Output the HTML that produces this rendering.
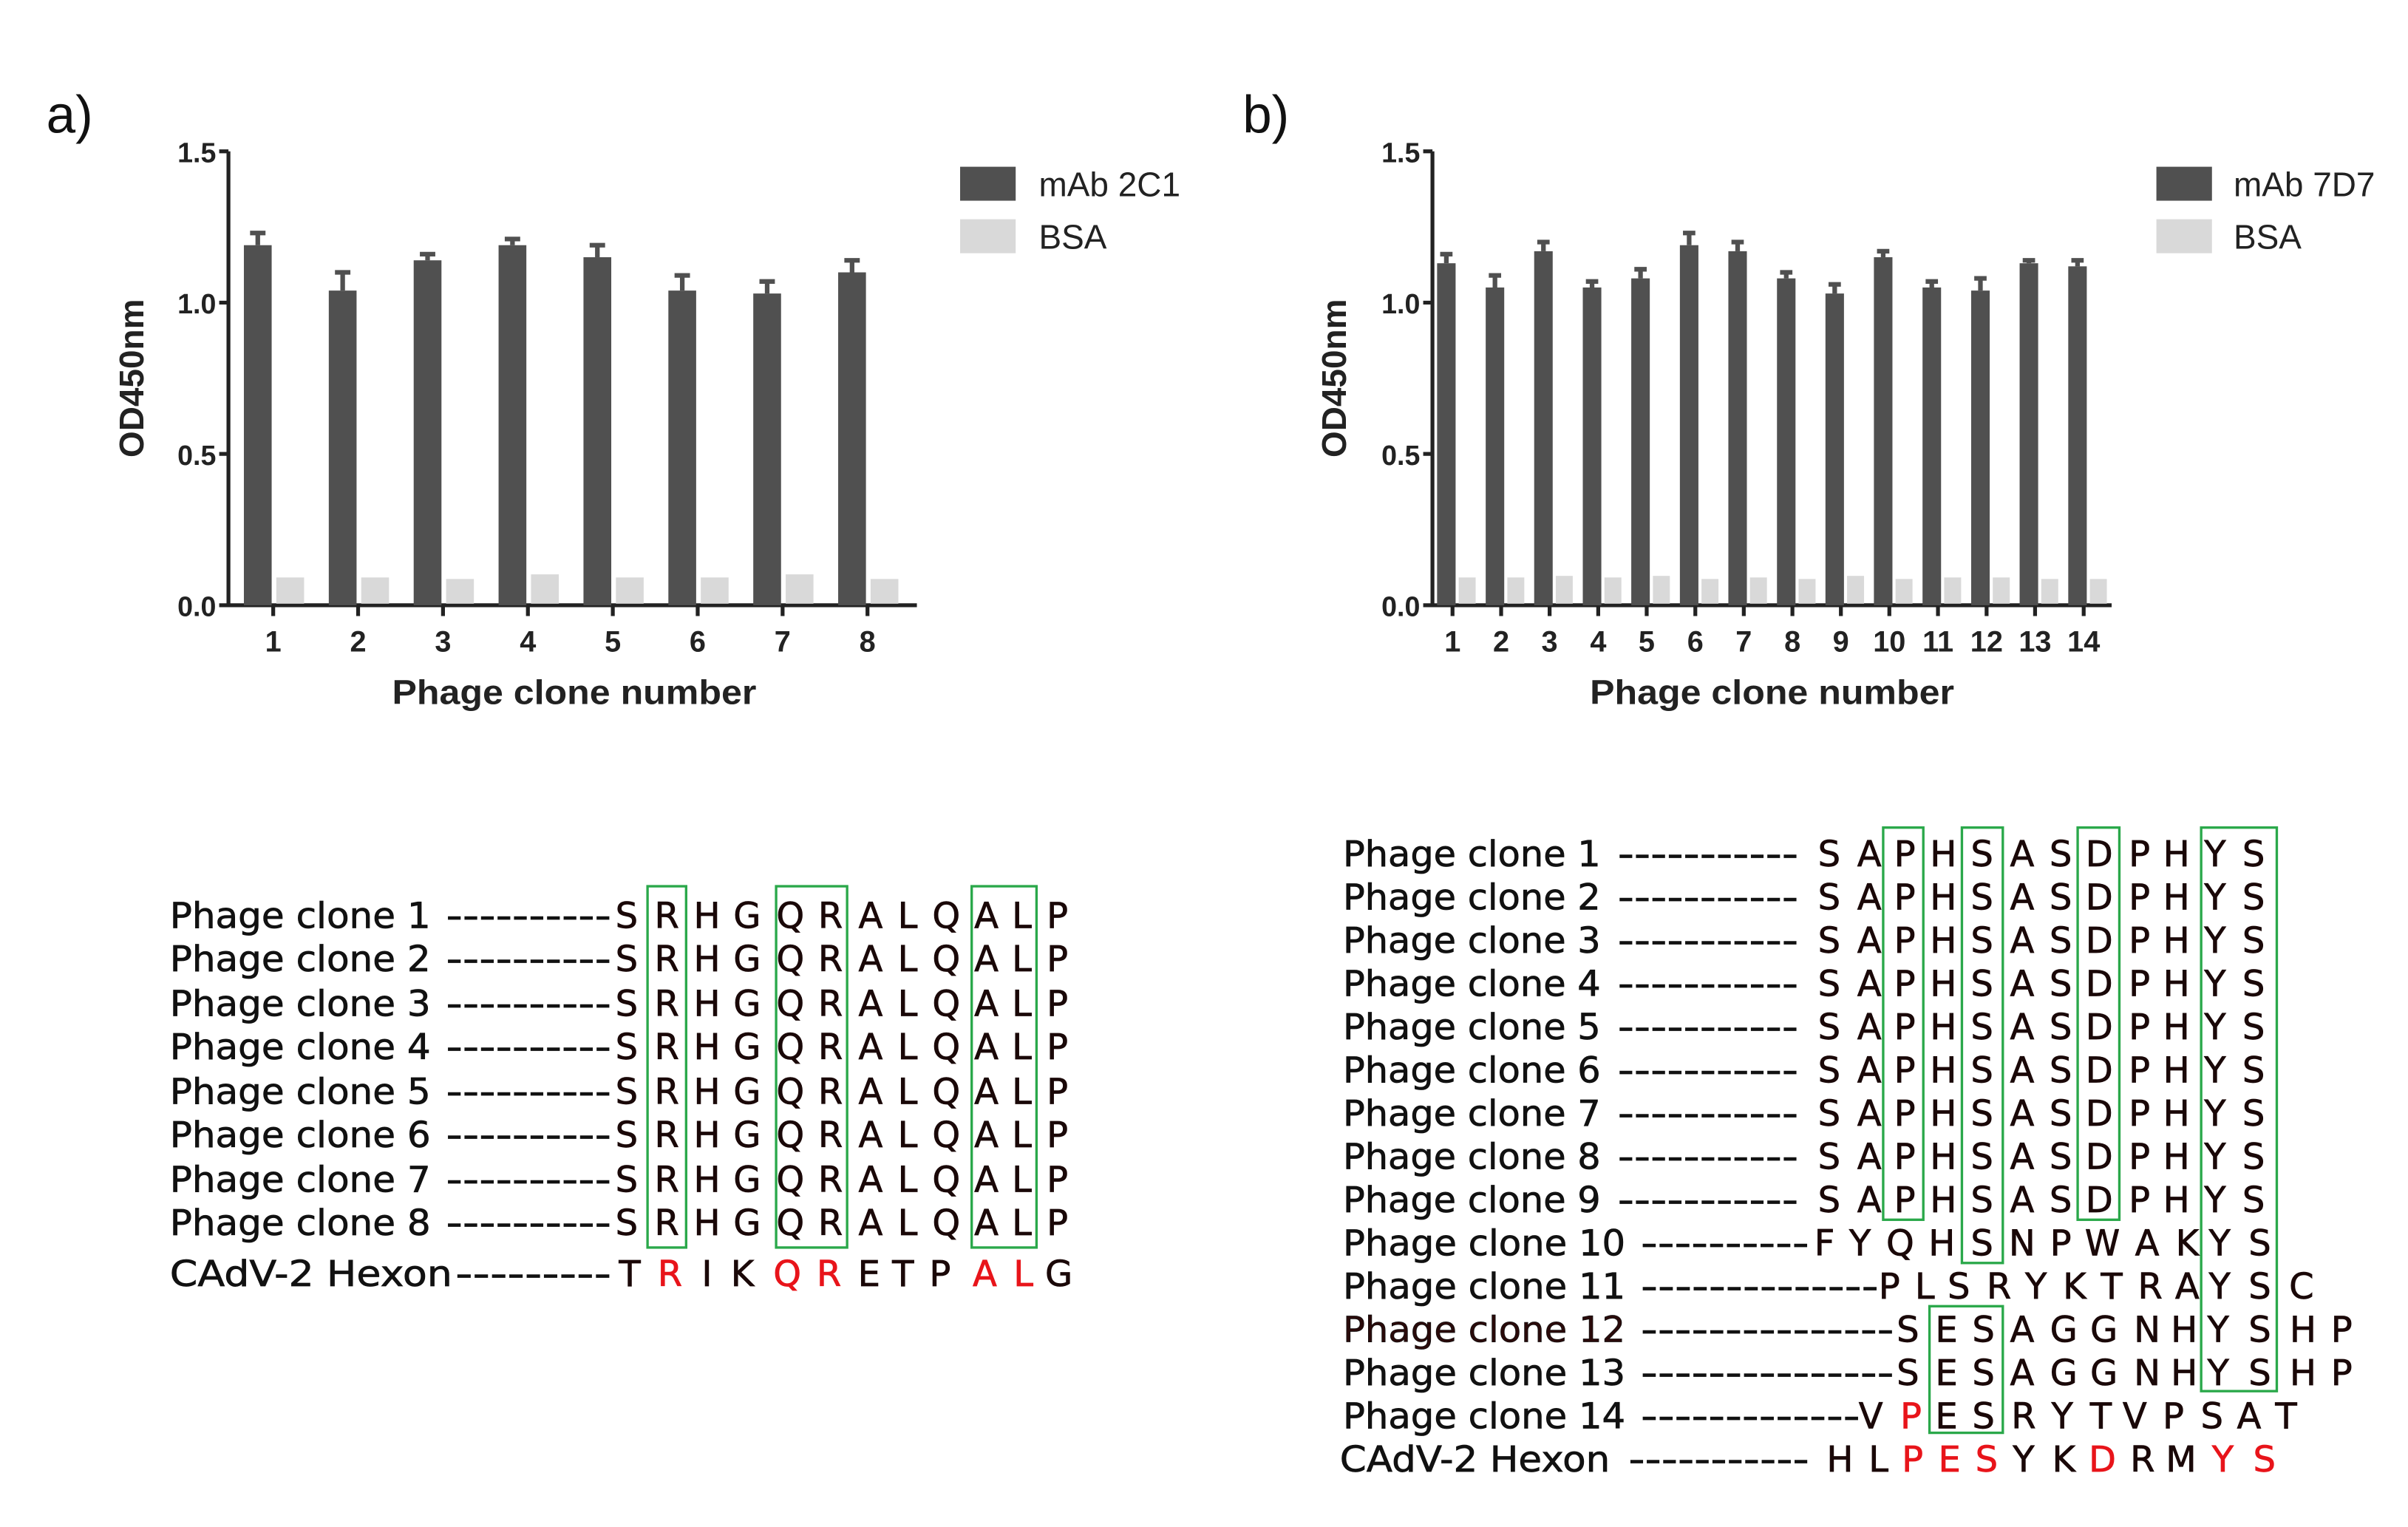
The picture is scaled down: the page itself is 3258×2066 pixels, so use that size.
<!DOCTYPE html>
<html><head><meta charset="utf-8"><style>html,body{margin:0;padding:0;background:#fff}svg{display:block}</style></head><body>
<svg width="3258" height="2066" viewBox="0 0 1560 989" preserveAspectRatio="none" xmlns="http://www.w3.org/2000/svg">
<rect width="1560" height="989" fill="#fff"/>
<g font-family="Liberation Sans, sans-serif" fill="#111">
<text x="30" y="86" font-size="34">a)</text>
<text x="805" y="86" font-size="34">b)</text>
</g>
<!-- Chart a -->
<g stroke="#222" stroke-width="2.5" fill="none">
<path d="M148 98 V392 H594"/>
<path d="M142 98H148M142 196H148M142 294H148M142 392H148"/>
<path d="M177 392v7M232 392v7M287 392v7M342 392v7M397 392v7M452 392v7M507 392v7M562 392v7"/>
</g>
<g font-family="Liberation Sans, sans-serif" font-weight="bold" font-size="18" fill="#222" text-anchor="end">
<text x="140" y="105">1.5</text><text x="140" y="203">1.0</text><text x="140" y="301">0.5</text><text x="140" y="399">0.0</text>
</g>
<g font-family="Liberation Sans, sans-serif" font-weight="bold" font-size="19" fill="#222" text-anchor="middle">
<text x="177" y="422">1</text><text x="232" y="422">2</text><text x="287" y="422">3</text><text x="342" y="422">4</text><text x="397" y="422">5</text><text x="452" y="422">6</text><text x="507" y="422">7</text><text x="562" y="422">8</text>
<text x="372" y="456" font-size="22" textLength="236" lengthAdjust="spacingAndGlyphs">Phage clone number</text>
<text transform="translate(93,245) rotate(-90)" font-size="22">OD450nm</text>
</g>
<g fill="#505050">
<rect x="158" y="158.8" width="18" height="233.2"/><rect x="213" y="188.2" width="18" height="203.8"/>
<rect x="268" y="168.6" width="18" height="223.4"/><rect x="323" y="158.8" width="18" height="233.2"/>
<rect x="378" y="166.6" width="18" height="225.4"/><rect x="433" y="188.2" width="18" height="203.8"/>
<rect x="488" y="190.1" width="18" height="201.9"/><rect x="543" y="176.4" width="18" height="215.6"/>
</g>
<g stroke="#505050" stroke-width="3" fill="none">
<path d="M167 158.8V150.9M162 150.9H172"/><path d="M222 188.2V176.4M217 176.4H227"/>
<path d="M277 168.6V164.6M272 164.6H282"/><path d="M332 158.8V154.8M327 154.8H337"/>
<path d="M387 166.6V158.8M382 158.8H392"/><path d="M442 188.2V178.4M437 178.4H447"/>
<path d="M497 190.1V182.3M492 182.3H502"/><path d="M552 176.4V168.6M547 168.6H557"/>
</g>
<g fill="#d9d9d9">
<rect x="179" y="374" width="18" height="17"/><rect x="234" y="374" width="18" height="17"/>
<rect x="289" y="375" width="18" height="16"/><rect x="344" y="372" width="18" height="19"/>
<rect x="399" y="374" width="18" height="17"/><rect x="454" y="374" width="18" height="17"/>
<rect x="509" y="372" width="18" height="19"/><rect x="564" y="375" width="18" height="16"/>
</g>
<rect x="622" y="108" width="36" height="22" fill="#505050"/>
<rect x="622" y="142" width="36" height="22" fill="#d9d9d9"/>
<g font-family="Liberation Sans, sans-serif" font-size="22" fill="#222">
<text x="673" y="127">mAb 2C1</text><text x="673" y="161">BSA</text>
<text x="1447" y="127">mAb 7D7</text><text x="1447" y="161">BSA</text>
</g>
<!-- Chart b -->
<g stroke="#222" stroke-width="2.5" fill="none">
<path d="M928 98 V392 H1368"/>
<path d="M922 98H928M922 196H928M922 294H928M922 392H928"/>
<path d="M941 392v7M972.5 392v7M1003.9 392v7M1035.4 392v7M1066.8 392v7M1098.3 392v7M1129.7 392v7M1161.2 392v7M1192.6 392v7M1224 392v7M1255.5 392v7M1287 392v7M1318.4 392v7M1349.9 392v7"/>
</g>
<g font-family="Liberation Sans, sans-serif" font-weight="bold" font-size="18" fill="#222" text-anchor="end">
<text x="920" y="105">1.5</text><text x="920" y="203">1.0</text><text x="920" y="301">0.5</text><text x="920" y="399">0.0</text>
</g>
<g font-family="Liberation Sans, sans-serif" font-weight="bold" font-size="19" fill="#222" text-anchor="middle">
<text x="941" y="422">1</text><text x="972.5" y="422">2</text><text x="1003.9" y="422">3</text><text x="1035.4" y="422">4</text><text x="1066.8" y="422">5</text><text x="1098.3" y="422">6</text><text x="1129.7" y="422">7</text><text x="1161.2" y="422">8</text><text x="1192.6" y="422">9</text><text x="1224" y="422">10</text><text x="1255.5" y="422">11</text><text x="1287" y="422">12</text><text x="1318.4" y="422">13</text><text x="1349.9" y="422">14</text>
<text x="1148" y="456" font-size="22" textLength="236" lengthAdjust="spacingAndGlyphs">Phage clone number</text>
<text transform="translate(872,245) rotate(-90)" font-size="22">OD450nm</text>
</g>
<g fill="#505050">
<rect x="931" y="170.5" width="12" height="221.5"/><rect x="962.5" y="186.2" width="12" height="205.8"/>
<rect x="993.9" y="162.7" width="12" height="229.3"/><rect x="1025.4" y="186.2" width="12" height="205.8"/>
<rect x="1056.8" y="180.3" width="12" height="211.7"/><rect x="1088.3" y="158.8" width="12" height="233.2"/>
<rect x="1119.7" y="162.7" width="12" height="229.3"/><rect x="1151.2" y="180.3" width="12" height="211.7"/>
<rect x="1182.6" y="190.1" width="12" height="201.9"/><rect x="1214" y="166.6" width="12" height="225.4"/>
<rect x="1245.5" y="186.2" width="12" height="205.8"/><rect x="1277" y="188.2" width="12" height="203.8"/>
<rect x="1308.4" y="170.5" width="12" height="221.5"/><rect x="1339.9" y="172.5" width="12" height="219.5"/>
</g>
<g stroke="#505050" stroke-width="3" fill="none">
<path d="M937 170.5V164.6M933 164.6H941"/><path d="M968.5 186.2V178.4M964.5 178.4H972.5"/>
<path d="M999.9 162.7V156.8M995.9 156.8H1003.9"/><path d="M1031.4 186.2V182.3M1027.4 182.3H1035.4"/>
<path d="M1062.8 180.3V174.4M1058.8 174.4H1066.8"/><path d="M1094.3 158.8V150.9M1090.3 150.9H1098.3"/>
<path d="M1125.7 162.7V156.8M1121.7 156.8H1129.7"/><path d="M1157.2 180.3V176.4M1153.2 176.4H1161.2"/>
<path d="M1188.6 190.1V184.2M1184.6 184.2H1192.6"/><path d="M1220 166.6V162.7M1216 162.7H1224"/>
<path d="M1251.5 186.2V182.3M1247.5 182.3H1255.5"/><path d="M1283 188.2V180.3M1279 180.3H1287"/>
<path d="M1314.4 170.5V168.6M1310.4 168.6H1318.4"/><path d="M1345.9 172.5V168.6M1341.9 168.6H1349.9"/>
</g>
<g fill="#d9d9d9">
<rect x="945" y="374" width="11" height="17"/><rect x="976.5" y="374" width="11" height="17"/><rect x="1007.9" y="373" width="11" height="18"/><rect x="1039.4" y="374" width="11" height="17"/><rect x="1070.8" y="373" width="11" height="18"/><rect x="1102.3" y="375" width="11" height="16"/><rect x="1133.7" y="374" width="11" height="17"/><rect x="1165.2" y="375" width="11" height="16"/><rect x="1196.6" y="373" width="11" height="18"/><rect x="1228" y="375" width="11" height="16"/><rect x="1259.5" y="374" width="11" height="17"/><rect x="1291" y="374" width="11" height="17"/><rect x="1322.4" y="375" width="11" height="16"/><rect x="1353.9" y="375" width="11" height="16"/>
</g>
<rect x="1397" y="108" width="36" height="22" fill="#505050"/>
<rect x="1397" y="142" width="36" height="22" fill="#d9d9d9"/>

<!-- Sequences a -->
<g font-family="DejaVu Sans, Liberation Sans, sans-serif" font-size="23" fill="#111" stroke="#111" stroke-width="0.35">
<text x="110" y="601" textLength="169" lengthAdjust="spacingAndGlyphs">Phage clone 1</text>
<text x="110" y="629" textLength="169" lengthAdjust="spacingAndGlyphs">Phage clone 2</text>
<text x="110" y="658" textLength="169" lengthAdjust="spacingAndGlyphs">Phage clone 3</text>
<text x="110" y="686" textLength="169" lengthAdjust="spacingAndGlyphs">Phage clone 4</text>
<text x="110" y="715" textLength="169" lengthAdjust="spacingAndGlyphs">Phage clone 5</text>
<text x="110" y="743" textLength="169" lengthAdjust="spacingAndGlyphs">Phage clone 6</text>
<text x="110" y="772" textLength="169" lengthAdjust="spacingAndGlyphs">Phage clone 7</text>
<text x="110" y="800" textLength="169" lengthAdjust="spacingAndGlyphs">Phage clone 8</text>
<text x="110" y="833" textLength="183" lengthAdjust="spacingAndGlyphs">CAdV-2 Hexon</text>
<text x="289" y="601" textLength="107" lengthAdjust="spacingAndGlyphs">----------</text>
<text x="289" y="629" textLength="107" lengthAdjust="spacingAndGlyphs">----------</text>
<text x="289" y="658" textLength="107" lengthAdjust="spacingAndGlyphs">----------</text>
<text x="289" y="686" textLength="107" lengthAdjust="spacingAndGlyphs">----------</text>
<text x="289" y="715" textLength="107" lengthAdjust="spacingAndGlyphs">----------</text>
<text x="289" y="743" textLength="107" lengthAdjust="spacingAndGlyphs">----------</text>
<text x="289" y="772" textLength="107" lengthAdjust="spacingAndGlyphs">----------</text>
<text x="289" y="800" textLength="107" lengthAdjust="spacingAndGlyphs">----------</text>
<text x="295" y="833" textLength="101" lengthAdjust="spacingAndGlyphs">---------</text>
</g>
<g font-family="DejaVu Sans, Liberation Sans, sans-serif" font-size="23" fill="#1a0808" stroke="#1a0808" stroke-width="0.35" text-anchor="middle">
<text y="601"><tspan x="406">S</tspan><tspan x="432">R</tspan><tspan x="458">H</tspan><tspan x="484">G</tspan><tspan x="512">Q</tspan><tspan x="538">R</tspan><tspan x="564">A</tspan><tspan x="588">L</tspan><tspan x="613">Q</tspan><tspan x="639">A</tspan><tspan x="662">L</tspan><tspan x="685">P</tspan></text>
<text y="629"><tspan x="406">S</tspan><tspan x="432">R</tspan><tspan x="458">H</tspan><tspan x="484">G</tspan><tspan x="512">Q</tspan><tspan x="538">R</tspan><tspan x="564">A</tspan><tspan x="588">L</tspan><tspan x="613">Q</tspan><tspan x="639">A</tspan><tspan x="662">L</tspan><tspan x="685">P</tspan></text>
<text y="658"><tspan x="406">S</tspan><tspan x="432">R</tspan><tspan x="458">H</tspan><tspan x="484">G</tspan><tspan x="512">Q</tspan><tspan x="538">R</tspan><tspan x="564">A</tspan><tspan x="588">L</tspan><tspan x="613">Q</tspan><tspan x="639">A</tspan><tspan x="662">L</tspan><tspan x="685">P</tspan></text>
<text y="686"><tspan x="406">S</tspan><tspan x="432">R</tspan><tspan x="458">H</tspan><tspan x="484">G</tspan><tspan x="512">Q</tspan><tspan x="538">R</tspan><tspan x="564">A</tspan><tspan x="588">L</tspan><tspan x="613">Q</tspan><tspan x="639">A</tspan><tspan x="662">L</tspan><tspan x="685">P</tspan></text>
<text y="715"><tspan x="406">S</tspan><tspan x="432">R</tspan><tspan x="458">H</tspan><tspan x="484">G</tspan><tspan x="512">Q</tspan><tspan x="538">R</tspan><tspan x="564">A</tspan><tspan x="588">L</tspan><tspan x="613">Q</tspan><tspan x="639">A</tspan><tspan x="662">L</tspan><tspan x="685">P</tspan></text>
<text y="743"><tspan x="406">S</tspan><tspan x="432">R</tspan><tspan x="458">H</tspan><tspan x="484">G</tspan><tspan x="512">Q</tspan><tspan x="538">R</tspan><tspan x="564">A</tspan><tspan x="588">L</tspan><tspan x="613">Q</tspan><tspan x="639">A</tspan><tspan x="662">L</tspan><tspan x="685">P</tspan></text>
<text y="772"><tspan x="406">S</tspan><tspan x="432">R</tspan><tspan x="458">H</tspan><tspan x="484">G</tspan><tspan x="512">Q</tspan><tspan x="538">R</tspan><tspan x="564">A</tspan><tspan x="588">L</tspan><tspan x="613">Q</tspan><tspan x="639">A</tspan><tspan x="662">L</tspan><tspan x="685">P</tspan></text>
<text y="800"><tspan x="406">S</tspan><tspan x="432">R</tspan><tspan x="458">H</tspan><tspan x="484">G</tspan><tspan x="512">Q</tspan><tspan x="538">R</tspan><tspan x="564">A</tspan><tspan x="588">L</tspan><tspan x="613">Q</tspan><tspan x="639">A</tspan><tspan x="662">L</tspan><tspan x="685">P</tspan></text>
</g>
<g font-family="DejaVu Sans, Liberation Sans, sans-serif" font-size="23" fill="#1a0808" stroke="#1a0808" stroke-width="0.35" text-anchor="middle">
<text y="833"><tspan x="408">T</tspan><tspan x="434" fill="#e8141a" stroke="#e8141a">R</tspan><tspan x="458">I</tspan><tspan x="481">K</tspan><tspan x="510" fill="#e8141a" stroke="#e8141a">Q</tspan><tspan x="537" fill="#e8141a" stroke="#e8141a">R</tspan><tspan x="563">E</tspan><tspan x="585">T</tspan><tspan x="609">P</tspan><tspan x="638" fill="#e8141a" stroke="#e8141a">A</tspan><tspan x="663" fill="#e8141a" stroke="#e8141a">L</tspan><tspan x="686">G</tspan></text>
</g>
<g fill="none" stroke="#2aa84a" stroke-width="1.6">
<rect x="419.5" y="574" width="25" height="234"/>
<rect x="502.8" y="574" width="46" height="234"/>
<rect x="629.5" y="574" width="42" height="234"/>
</g>

<!-- Sequences b -->
<g font-family="DejaVu Sans, Liberation Sans, sans-serif" font-size="23" fill="#111" stroke="#111" stroke-width="0.35">
<text x="870" y="561" textLength="167" lengthAdjust="spacingAndGlyphs">Phage clone 1</text>
<text x="870" y="589" textLength="167" lengthAdjust="spacingAndGlyphs">Phage clone 2</text>
<text x="870" y="617" textLength="167" lengthAdjust="spacingAndGlyphs">Phage clone 3</text>
<text x="870" y="645" textLength="167" lengthAdjust="spacingAndGlyphs">Phage clone 4</text>
<text x="870" y="673" textLength="167" lengthAdjust="spacingAndGlyphs">Phage clone 5</text>
<text x="870" y="701" textLength="167" lengthAdjust="spacingAndGlyphs">Phage clone 6</text>
<text x="870" y="729" textLength="167" lengthAdjust="spacingAndGlyphs">Phage clone 7</text>
<text x="870" y="757" textLength="167" lengthAdjust="spacingAndGlyphs">Phage clone 8</text>
<text x="870" y="785" textLength="167" lengthAdjust="spacingAndGlyphs">Phage clone 9</text>
<text x="870" y="813" textLength="183" lengthAdjust="spacingAndGlyphs">Phage clone 10</text>
<text x="870" y="841" textLength="183" lengthAdjust="spacingAndGlyphs">Phage clone 11</text>
<text x="870" y="869" textLength="183" lengthAdjust="spacingAndGlyphs" fill="#2a0a0a">Phage clone 12</text>
<text x="870" y="897" textLength="183" lengthAdjust="spacingAndGlyphs">Phage clone 13</text>
<text x="870" y="925" textLength="183" lengthAdjust="spacingAndGlyphs">Phage clone 14</text>
<text x="868" y="953" textLength="175" lengthAdjust="spacingAndGlyphs">CAdV-2 Hexon</text>
<text x="1048" y="561" textLength="117" lengthAdjust="spacingAndGlyphs">-----------</text>
<text x="1048" y="589" textLength="117" lengthAdjust="spacingAndGlyphs">-----------</text>
<text x="1048" y="617" textLength="117" lengthAdjust="spacingAndGlyphs">-----------</text>
<text x="1048" y="645" textLength="117" lengthAdjust="spacingAndGlyphs">-----------</text>
<text x="1048" y="673" textLength="117" lengthAdjust="spacingAndGlyphs">-----------</text>
<text x="1048" y="701" textLength="117" lengthAdjust="spacingAndGlyphs">-----------</text>
<text x="1048" y="729" textLength="117" lengthAdjust="spacingAndGlyphs">-----------</text>
<text x="1048" y="757" textLength="117" lengthAdjust="spacingAndGlyphs">-----------</text>
<text x="1048" y="785" textLength="117" lengthAdjust="spacingAndGlyphs">-----------</text>
<text x="1063" y="813" textLength="109" lengthAdjust="spacingAndGlyphs">----------</text>
<text x="1063" y="841" textLength="154" lengthAdjust="spacingAndGlyphs">--------------</text>
<text x="1063" y="869" textLength="164" lengthAdjust="spacingAndGlyphs">---------------</text>
<text x="1063" y="897" textLength="164" lengthAdjust="spacingAndGlyphs">---------------</text>
<text x="1063" y="925" textLength="142" lengthAdjust="spacingAndGlyphs">-------------</text>
<text x="1055" y="953" textLength="117" lengthAdjust="spacingAndGlyphs">-----------</text>
</g>
<g font-family="DejaVu Sans, Liberation Sans, sans-serif" font-size="23" fill="#1a0808" stroke="#1a0808" stroke-width="0.35" text-anchor="middle">
<text y="561"><tspan x="1185">S</tspan><tspan x="1211">A</tspan><tspan x="1234">P</tspan><tspan x="1259">H</tspan><tspan x="1284">S</tspan><tspan x="1310">A</tspan><tspan x="1335">S</tspan><tspan x="1360">D</tspan><tspan x="1386">P</tspan><tspan x="1410">H</tspan><tspan x="1435">Y</tspan><tspan x="1460">S</tspan></text>
<text y="589"><tspan x="1185">S</tspan><tspan x="1211">A</tspan><tspan x="1234">P</tspan><tspan x="1259">H</tspan><tspan x="1284">S</tspan><tspan x="1310">A</tspan><tspan x="1335">S</tspan><tspan x="1360">D</tspan><tspan x="1386">P</tspan><tspan x="1410">H</tspan><tspan x="1435">Y</tspan><tspan x="1460">S</tspan></text>
<text y="617"><tspan x="1185">S</tspan><tspan x="1211">A</tspan><tspan x="1234">P</tspan><tspan x="1259">H</tspan><tspan x="1284">S</tspan><tspan x="1310">A</tspan><tspan x="1335">S</tspan><tspan x="1360">D</tspan><tspan x="1386">P</tspan><tspan x="1410">H</tspan><tspan x="1435">Y</tspan><tspan x="1460">S</tspan></text>
<text y="645"><tspan x="1185">S</tspan><tspan x="1211">A</tspan><tspan x="1234">P</tspan><tspan x="1259">H</tspan><tspan x="1284">S</tspan><tspan x="1310">A</tspan><tspan x="1335">S</tspan><tspan x="1360">D</tspan><tspan x="1386">P</tspan><tspan x="1410">H</tspan><tspan x="1435">Y</tspan><tspan x="1460">S</tspan></text>
<text y="673"><tspan x="1185">S</tspan><tspan x="1211">A</tspan><tspan x="1234">P</tspan><tspan x="1259">H</tspan><tspan x="1284">S</tspan><tspan x="1310">A</tspan><tspan x="1335">S</tspan><tspan x="1360">D</tspan><tspan x="1386">P</tspan><tspan x="1410">H</tspan><tspan x="1435">Y</tspan><tspan x="1460">S</tspan></text>
<text y="701"><tspan x="1185">S</tspan><tspan x="1211">A</tspan><tspan x="1234">P</tspan><tspan x="1259">H</tspan><tspan x="1284">S</tspan><tspan x="1310">A</tspan><tspan x="1335">S</tspan><tspan x="1360">D</tspan><tspan x="1386">P</tspan><tspan x="1410">H</tspan><tspan x="1435">Y</tspan><tspan x="1460">S</tspan></text>
<text y="729"><tspan x="1185">S</tspan><tspan x="1211">A</tspan><tspan x="1234">P</tspan><tspan x="1259">H</tspan><tspan x="1284">S</tspan><tspan x="1310">A</tspan><tspan x="1335">S</tspan><tspan x="1360">D</tspan><tspan x="1386">P</tspan><tspan x="1410">H</tspan><tspan x="1435">Y</tspan><tspan x="1460">S</tspan></text>
<text y="757"><tspan x="1185">S</tspan><tspan x="1211">A</tspan><tspan x="1234">P</tspan><tspan x="1259">H</tspan><tspan x="1284">S</tspan><tspan x="1310">A</tspan><tspan x="1335">S</tspan><tspan x="1360">D</tspan><tspan x="1386">P</tspan><tspan x="1410">H</tspan><tspan x="1435">Y</tspan><tspan x="1460">S</tspan></text>
<text y="785"><tspan x="1185">S</tspan><tspan x="1211">A</tspan><tspan x="1234">P</tspan><tspan x="1259">H</tspan><tspan x="1284">S</tspan><tspan x="1310">A</tspan><tspan x="1335">S</tspan><tspan x="1360">D</tspan><tspan x="1386">P</tspan><tspan x="1410">H</tspan><tspan x="1435">Y</tspan><tspan x="1460">S</tspan></text>
<text y="813"><tspan x="1182">F</tspan><tspan x="1205">Y</tspan><tspan x="1231">Q</tspan><tspan x="1258">H</tspan><tspan x="1284">S</tspan><tspan x="1310">N</tspan><tspan x="1335">P</tspan><tspan x="1362">W</tspan><tspan x="1391">A</tspan><tspan x="1417">K</tspan><tspan x="1438">Y</tspan><tspan x="1464">S</tspan></text>
<text y="841"><tspan x="1224">P</tspan><tspan x="1247">L</tspan><tspan x="1269">S</tspan><tspan x="1295">R</tspan><tspan x="1319">Y</tspan><tspan x="1344">K</tspan><tspan x="1368">T</tspan><tspan x="1393">R</tspan><tspan x="1417">A</tspan><tspan x="1438">Y</tspan><tspan x="1464">S</tspan><tspan x="1491">C</tspan></text>
<text y="869"><tspan x="1236">S</tspan><tspan x="1261">E</tspan><tspan x="1285">S</tspan><tspan x="1310">A</tspan><tspan x="1337">G</tspan><tspan x="1363">G</tspan><tspan x="1391">N</tspan><tspan x="1415">H</tspan><tspan x="1437">Y</tspan><tspan x="1464">S</tspan><tspan x="1492">H</tspan><tspan x="1517">P</tspan></text>
<text y="897"><tspan x="1236">S</tspan><tspan x="1261">E</tspan><tspan x="1285">S</tspan><tspan x="1310">A</tspan><tspan x="1337">G</tspan><tspan x="1363">G</tspan><tspan x="1391">N</tspan><tspan x="1415">H</tspan><tspan x="1437">Y</tspan><tspan x="1464">S</tspan><tspan x="1492">H</tspan><tspan x="1517">P</tspan></text>
<text y="925"><tspan x="1212">V</tspan><tspan x="1238" fill="#e8141a" stroke="#e8141a">P</tspan><tspan x="1261">E</tspan><tspan x="1285">S</tspan><tspan x="1311">R</tspan><tspan x="1336">Y</tspan><tspan x="1361">T</tspan><tspan x="1383">V</tspan><tspan x="1408">P</tspan><tspan x="1433">S</tspan><tspan x="1457">A</tspan><tspan x="1481">T</tspan></text>
<text y="953"><tspan x="1192">H</tspan><tspan x="1217">L</tspan><tspan x="1239" fill="#e8141a" stroke="#e8141a">P</tspan><tspan x="1263" fill="#e8141a" stroke="#e8141a">E</tspan><tspan x="1287" fill="#e8141a" stroke="#e8141a">S</tspan><tspan x="1311">Y</tspan><tspan x="1337">K</tspan><tspan x="1362" fill="#e8141a" stroke="#e8141a">D</tspan><tspan x="1388">R</tspan><tspan x="1413">M</tspan><tspan x="1440" fill="#e8141a" stroke="#e8141a">Y</tspan><tspan x="1467" fill="#e8141a" stroke="#e8141a">S</tspan></text>
</g>
<g fill="none" stroke="#2aa84a" stroke-width="1.6">
<rect x="1220" y="536" width="26" height="254"/>
<rect x="1271" y="536" width="26.5" height="282"/>
<rect x="1346" y="536" width="27" height="254"/>
<rect x="1426" y="536" width="49" height="365"/>
<rect x="1250" y="846" width="47.5" height="82"/>
</g>
</svg>
</body></html>
